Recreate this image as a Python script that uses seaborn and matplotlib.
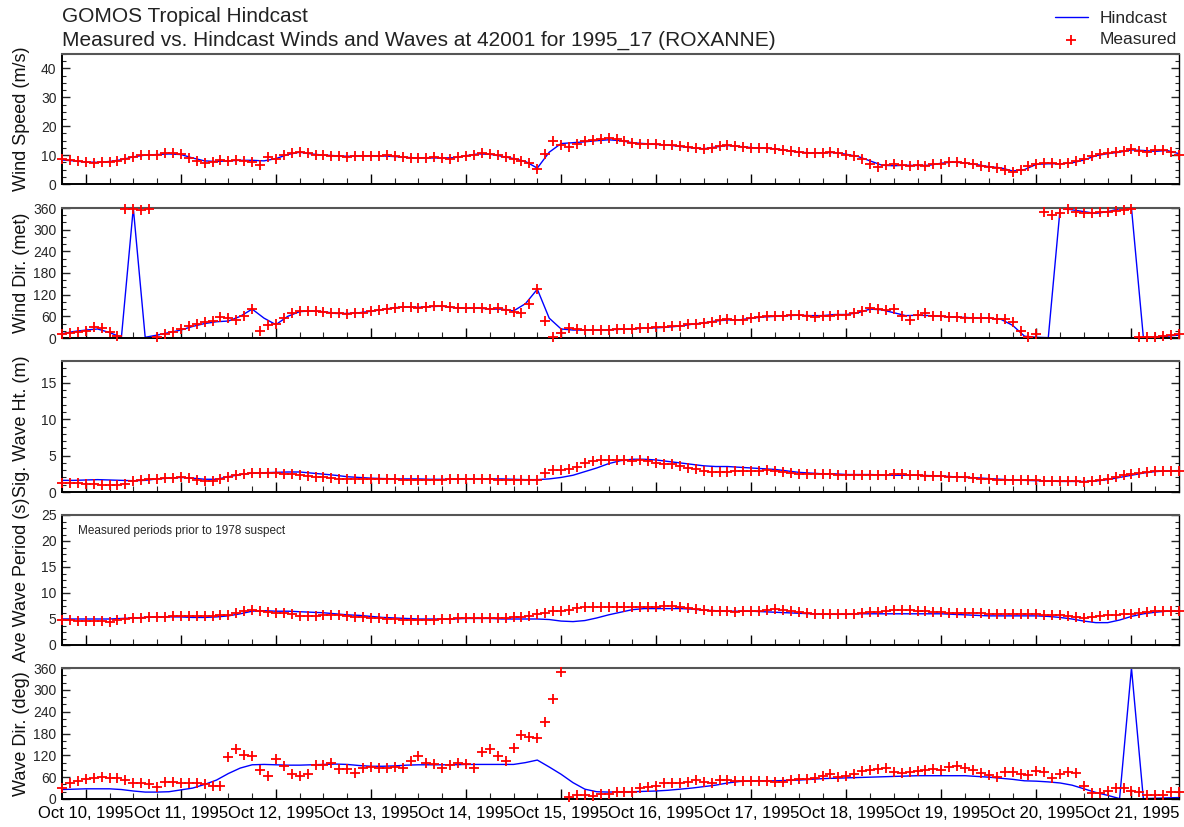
import numpy as np
import pandas as pd
import matplotlib
matplotlib.use("Agg")
import matplotlib.pyplot as plt
import matplotlib.dates as mdates
from matplotlib.ticker import MultipleLocator
import seaborn as sns

sns.set_theme(style="ticks")
plt.rcParams["font.family"] = ["Liberation Sans", "DejaVu Sans"]

# ---------------- data ----------------
TITLE1 = "GOMOS Tropical Hindcast"
TITLE2 = "Measured vs. Hindcast Winds and Waves at 42001 for 1995_17 (ROXANNE)"
NOTE = "Measured periods prior to 1978 suspect"
START = "1995-10-09 18:00"
END = "1995-10-21 12:00"

# measured: every 2 h from Oct 9 18:00 (3 + 11*12 + 7 = 142 values)
ws_meas = [8.5, 8.3, 8.0,
           7.5, 7.3, 7.5, 7.7, 8.0, 8.5, 9.5, 10.0, 10.0, 10.2, 10.6, 10.7,
           10.3, 9.0, 7.8, 7.2, 7.6, 8.2, 8.0, 8.3, 8.0, 7.6, 6.5, 9.5,
           8.8, 10.0, 10.8, 11.2, 10.6, 10.0, 9.9, 9.8, 9.8, 9.5, 9.6, 9.8,
           9.8, 9.7, 9.9, 9.6, 9.3, 9.0, 8.9, 9.0, 9.2, 9.0, 8.8, 9.3,
           9.8, 10.2, 10.6, 10.4, 9.9, 9.3, 8.7, 8.0, 7.3, 5.2, 10.5, 14.8,
           13.5, 12.8, 13.8, 15.0, 15.3, 15.5, 15.8, 15.5, 14.8, 14.3, 14.0, 14.0,
           13.8, 13.6, 13.5, 13.2, 12.8, 12.3, 12.2, 12.6, 13.2, 13.6, 13.2, 12.8,
           12.6, 12.5, 12.4, 12.2, 11.8, 11.3, 11.0, 10.8, 10.7, 10.9, 11.0, 10.8,
           10.2, 9.6, 8.5, 7.0, 6.0, 6.5, 6.8, 6.5, 6.3, 6.6, 6.2, 6.8,
           7.0, 7.5, 7.6, 7.3, 6.8, 6.3, 5.8, 5.5, 4.8, 4.0, 4.8, 6.2,
           7.0, 7.2, 7.3, 7.0, 7.2, 7.8, 8.5, 9.8, 10.5, 10.8, 11.0, 11.5,
           12.0, 11.5, 11.2, 11.6, 11.8, 11.0, 10.0]

wd_meas = [12, 14, 16,
           20, 31, 28, 18, 6, 358, 356, 355, 356, 3, 12, 18,
           25, 32, 38, 45, 48, 58, 55, 50, 62, 80, 20, 35,
           38, 55, 70, 75, 75, 74, 72, 70, 68, 67, 68, 70,
           75, 78, 80, 84, 86, 85, 84, 86, 88, 88, 86, 84,
           82, 84, 82, 80, 82, 78, 72, 68, 95, 135, 48, 2,
           15, 28, 25, 22, 22, 22, 22, 24, 25, 25, 27, 28,
           30, 30, 32, 34, 38, 40, 42, 45, 50, 52, 50, 50,
           55, 57, 60, 62, 62, 63, 63, 62, 58, 60, 62, 65,
           65, 68, 75, 82, 80, 78, 80, 60, 50, 65, 68, 62,
           60, 58, 58, 56, 55, 55, 55, 53, 52, 45, 20, 3,
           10, 348, 340, 345, 358, 350, 345, 345, 348, 350, 352, 355,
           358, 2, 2, 4, 6, 8, 10]

swh_meas = [1.3, 1.25, 1.2,
            1.1, 1.05, 1.0, 0.95, 1.0, 1.15, 1.45, 1.6, 1.75, 1.85, 1.95, 1.95,
            2.0, 1.9, 1.7, 1.5, 1.55, 1.75, 2.1, 2.3, 2.45, 2.55, 2.6, 2.55,
            2.55, 2.5, 2.45, 2.3, 2.2, 2.1, 2.0, 1.9, 1.85, 1.8, 1.8, 1.8,
            1.8, 1.8, 1.8, 1.75, 1.7, 1.7, 1.65, 1.65, 1.7, 1.7, 1.75, 1.8,
            1.8, 1.8, 1.8, 1.75, 1.7, 1.7, 1.6, 1.6, 1.6, 1.7, 2.6, 3.0,
            3.0, 3.2, 3.5, 4.0, 4.3, 4.4, 4.4, 4.4, 4.4, 4.3, 4.4, 4.2,
            4.0, 3.9, 3.8, 3.6, 3.3, 3.1, 2.9, 2.8, 2.8, 2.8, 2.85, 2.9,
            2.9, 2.9, 3.0, 2.95, 2.8, 2.6, 2.5, 2.5, 2.45, 2.45, 2.45, 2.4,
            2.4, 2.4, 2.4, 2.35, 2.3, 2.35, 2.45, 2.5, 2.4, 2.3, 2.25, 2.2,
            2.2, 2.1, 2.1, 2.0, 1.9, 1.8, 1.8, 1.7, 1.7, 1.65, 1.6, 1.6,
            1.6, 1.55, 1.5, 1.5, 1.45, 1.45, 1.4, 1.45, 1.6, 1.8, 2.0, 2.3,
            2.5, 2.6, 2.75, 2.9, 2.95, 2.9, 2.85]

tm_meas = [4.8, 4.8, 4.7,
           4.7, 4.6, 4.6, 4.5, 4.8, 5.0, 5.1, 5.2, 5.3, 5.4, 5.4, 5.5,
           5.5, 5.5, 5.5, 5.6, 5.6, 5.7, 5.8, 6.1, 6.6, 6.7, 6.5, 6.4,
           6.2, 6.1, 6.0, 5.6, 5.5, 5.6, 5.7, 5.8, 5.7, 5.5, 5.4, 5.3,
           5.2, 5.1, 5.0, 5.0, 4.9, 4.9, 4.8, 4.8, 4.9, 5.0, 5.0, 5.1,
           5.1, 5.2, 5.2, 5.2, 5.1, 5.2, 5.3, 5.4, 5.6, 5.9, 6.2, 6.5,
           6.6, 6.8, 7.1, 7.3, 7.4, 7.4, 7.4, 7.3, 7.3, 7.4, 7.3, 7.3,
           7.4, 7.5, 7.5, 7.3, 7.1, 7.0, 6.8, 6.6, 6.5, 6.5, 6.4, 6.5,
           6.5, 6.6, 6.8, 6.9, 6.8, 6.5, 6.3, 6.2, 6.0, 6.0, 6.0, 6.0,
           6.0, 6.0, 6.1, 6.3, 6.4, 6.6, 6.7, 6.8, 6.8, 6.6, 6.5, 6.4,
           6.3, 6.2, 6.2, 6.1, 6.1, 6.1, 6.0, 6.0, 6.0, 6.0, 5.9, 5.9,
           5.9, 5.8, 5.8, 5.7, 5.6, 5.4, 5.2, 5.3, 5.5, 5.7, 5.8, 5.9,
           6.0, 6.2, 6.4, 6.5, 6.6, 6.6, 6.5]

dp_meas = [29, 45, 50,
           55, 57, 60, 58, 57, 52, 43, 45, 40, 32, 47, 48,
           45, 44, 45, 40, 36, 36, 115, 137, 120, 118, 80, 62,
           109, 91, 68, 62, 70, 94, 94, 100, 82, 82, 72, 85,
           87, 85, 86, 87, 85, 105, 118, 100, 97, 85, 94, 100,
           95, 85, 128, 137, 118, 105, 140, 176, 170, 168, 212, 275,
           350, 6, 11, 12, 9, 13, 14, 18, 20, 20, 29, 34,
           36, 43, 43, 45, 48, 52, 47, 45, 52, 52, 50, 50,
           50, 49, 50, 48, 48, 52, 54, 56, 58, 63, 70, 61,
           64, 70, 77, 80, 82, 84, 75, 72, 74, 76, 80, 82,
           81, 88, 90, 84, 79, 72, 65, 61, 74, 74, 70, 66,
           76, 73, 58, 68, 74, 72, 35, 16, 16, 22, 30, 29,
           22, 20, 12, 10, 10, 18, 20]

# hindcast: every 3 h from Oct 9 18:00 (2 + 11*8 + 5 = 95 values)
ws_hind = [8.3, 8.0,
           7.6, 7.5, 7.8, 8.4, 9.4, 10.0, 10.2, 10.4,
           10.2, 9.0, 8.0, 7.8, 8.0, 8.2, 8.2, 8.0,
           8.8, 10.2, 11.0, 10.4, 10.0, 9.8, 9.6, 9.7,
           9.8, 9.7, 9.5, 9.2, 9.0, 9.0, 9.0, 9.1,
           9.8, 10.4, 10.3, 9.6, 8.8, 7.8, 5.5, 11.0,
           14.0, 14.3, 14.6, 15.0, 15.3, 15.0, 14.3, 14.0,
           13.7, 13.5, 13.0, 12.5, 12.2, 12.8, 13.3, 13.0,
           12.6, 12.4, 12.2, 11.6, 11.0, 10.8, 10.8, 10.9,
           10.3, 9.5, 8.0, 6.5, 6.3, 6.5, 6.4, 6.5,
           7.2, 7.6, 7.3, 6.7, 6.0, 5.6, 4.5, 5.0,
           6.8, 7.0, 7.0, 7.3, 8.3, 9.8, 10.5, 11.0,
           11.8, 11.6, 11.3, 11.6, 10.5]

wd_hind = [12, 18,
           22, 25, 15, 2, 360, 2, 8, 15,
           22, 32, 40, 45, 47, 60, 80, 55,
           37, 60, 73, 75, 73, 68, 68, 70,
           74, 79, 84, 86, 85, 87, 88, 84,
           82, 83, 80, 80, 75, 95, 135, 55,
           25, 22, 22, 22, 23, 24, 25, 27,
           28, 30, 33, 38, 42, 47, 50, 50,
           55, 58, 60, 62, 63, 62, 62, 65,
           65, 70, 80, 78, 70, 62, 63, 62,
           60, 58, 57, 55, 55, 52, 35, 5,
           2, 1, 360, 355, 350, 345, 350, 358,
           360, 2, 3, 5, 8]

swh_hind = [1.6, 1.6,
            1.65, 1.7, 1.65, 1.6, 1.55, 1.6, 1.8, 1.9,
            2.0, 1.9, 1.75, 1.75, 2.1, 2.4, 2.6, 2.65,
            2.7, 2.75, 2.75, 2.6, 2.45, 2.3, 2.1, 2.0,
            1.9, 1.85, 1.8, 1.8, 1.8, 1.75, 1.75, 1.75,
            1.8, 1.8, 1.8, 1.8, 1.75, 1.7, 1.7, 1.8,
            2.0, 2.3, 2.8, 3.3, 3.9, 4.3, 4.5, 4.5,
            4.4, 4.2, 4.0, 3.8, 3.6, 3.5, 3.5, 3.4,
            3.3, 3.2, 3.1, 2.9, 2.7, 2.6, 2.5, 2.5,
            2.4, 2.4, 2.4, 2.35, 2.3, 2.3, 2.3, 2.25,
            2.2, 2.1, 2.0, 1.95, 1.85, 1.75, 1.65, 1.6,
            1.55, 1.5, 1.45, 1.45, 1.45, 1.5, 1.7, 2.0,
            2.3, 2.6, 2.8, 2.9, 2.9]

tm_hind = [5.0, 5.0,
           5.0, 5.0, 5.0, 5.1, 5.2, 5.3, 5.4, 5.4,
           5.4, 5.3, 5.3, 5.4, 5.6, 6.0, 6.5, 6.6,
           6.5, 6.5, 6.4, 6.3, 6.2, 6.0, 5.8, 5.7,
           5.5, 5.3, 5.2, 5.1, 5.0, 5.0, 5.0, 5.0,
           5.1, 5.1, 5.1, 5.0, 5.0, 5.0, 5.0, 4.9,
           4.6, 4.5, 4.7, 5.2, 5.8, 6.3, 6.8, 7.0,
           7.0, 7.0, 7.0, 6.9, 6.7, 6.6, 6.5, 6.5,
           6.5, 6.4, 6.3, 6.2, 6.1, 6.0, 5.9, 5.9,
           5.9, 6.0, 6.0, 6.0, 6.0, 6.0, 6.0, 6.0,
           6.0, 5.9, 5.8, 5.7, 5.6, 5.6, 5.6, 5.6,
           5.6, 5.5, 5.3, 5.0, 4.6, 4.3, 4.3, 4.8,
           5.5, 6.0, 6.3, 6.5, 6.5]

dp_hind = [26, 27,
           28, 28, 28, 26, 22, 19, 19, 20,
           25, 30, 40, 52, 70, 85, 94, 95,
           94, 93, 93, 94, 95, 96, 95, 92,
           90, 90, 91, 93, 94, 94, 94, 94,
           95, 95, 95, 95, 95, 100, 107, 88,
           68, 45, 27, 20, 19, 20, 20, 21,
           22, 24, 27, 30, 34, 38, 44, 48,
           50, 50, 50, 51, 52, 54, 56, 57,
           58, 59, 60, 61, 62, 63, 64, 64,
           64, 64, 64, 62, 60, 57, 54, 50,
           49, 47, 44, 38, 28, 18, 10, 1,
           360, 1, 2, 3, 4]

panels = [
    ("Wind Speed (m/s)", ws_meas, ws_hind, 45, 10, 2.5),
    ("Wind Dir. (met)", wd_meas, wd_hind, 360, 60, 20),
    ("Sig. Wave Ht. (m)", swh_meas, swh_hind, 18, 5, 1),
    ("Ave Wave Period (s)", tm_meas, tm_hind, 25, 5, 1.25),
    ("Wave Dir. (deg)", dp_meas, dp_hind, 360, 60, 20),
]

t_meas = pd.date_range(START, periods=len(ws_meas), freq="2h")
t_hind = pd.date_range(START, periods=len(ws_hind), freq="3h")

# ---------------- figure ----------------
W, H = 1184, 827
fig = plt.figure(figsize=(W / 100, H / 100), dpi=100)
fig.patch.set_facecolor("white")

boxes = [(54, 130), (208, 130), (361, 131), (515, 130), (668, 131)]
left_px, right_px = 62, 1179

axes = []
for i, ((label, meas, hind, ymax, major, minor), (top, h)) in enumerate(zip(panels, boxes)):
    ax = fig.add_axes([left_px / W, 1 - (top + h) / H, (right_px - left_px) / W, h / H])
    ax.set_facecolor("white")
    dfm = pd.DataFrame({"time": t_meas, "value": meas})
    dfh = pd.DataFrame({"time": t_hind, "value": hind})
    sns.lineplot(data=dfh, x="time", y="value", ax=ax, color="#0000ff",
                 linewidth=1.0, label="Hindcast", zorder=2)
    sns.scatterplot(data=dfm, x="time", y="value", ax=ax, marker="+",
                    color="#ff0000", s=50, linewidth=1.3, label="Measured",
                    zorder=3, clip_on=False)
    ax.set_xlim(pd.Timestamp(START), pd.Timestamp(END))
    ax.set_ylim(0, ymax)
    ax.yaxis.set_major_locator(MultipleLocator(major))
    ax.yaxis.set_minor_locator(MultipleLocator(minor))
    ax.xaxis.set_major_locator(mdates.DayLocator())
    ax.xaxis.set_minor_locator(mdates.HourLocator(byhour=[0, 6, 12, 18]))
    ax.xaxis.set_major_formatter(mdates.DateFormatter("%b %d, %Y"))
    ax.tick_params(axis="x", which="major", direction="in", length=7, width=1.0,
                   bottom=True, top=False, labelsize=12, pad=5, colors="black")
    ax.tick_params(axis="x", which="minor", direction="in", length=4, width=0.8,
                   bottom=True, top=False)
    ax.tick_params(axis="y", which="major", direction="in", length=6, width=1.0,
                   left=True, right=True, labelsize=10, pad=4)
    ax.tick_params(axis="y", which="minor", direction="in", length=3, width=0.8,
                   left=True, right=True)
    if i < len(panels) - 1:
        ax.tick_params(axis="x", labelbottom=False)
    ax.set_xlabel("")
    ax.set_ylabel(label, fontsize=13, color="#111111")
    ax.yaxis.set_label_coords(-0.0287, 0.5)
    for side in ["left", "bottom", "right"]:
        ax.spines[side].set_color("black")
    ax.spines["left"].set_linewidth(1.4)
    ax.spines["bottom"].set_linewidth(1.4)
    ax.spines["right"].set_linewidth(1.0)
    ax.spines["top"].set_color("#555555")
    ax.spines["top"].set_linewidth(1.5)
    if ax.get_legend() is not None:
        ax.get_legend().remove()
    axes.append(ax)

axes[3].text((78 - left_px) / (right_px - left_px), 0.877, NOTE,
             transform=axes[3].transAxes, fontsize=8.5, va="center", ha="left")

fig.text(62 / W, 1 - 17 / H, TITLE1, fontsize=15, va="center", ha="left", color="#222222")
fig.text(62 / W, 1 - 40 / H, TITLE2, fontsize=15, va="center", ha="left", color="#222222")

handles, labels = axes[0].get_legend_handles_labels()
fig.legend(handles, labels, loc="upper right", bbox_to_anchor=(1.0, 1.0 - 4 / H),
           frameon=False, fontsize=12.5, labelspacing=0.35, handlelength=1.9,
           handletextpad=0.7, borderaxespad=0.0)

fig.savefig("out.png", dpi=100, facecolor="white")
